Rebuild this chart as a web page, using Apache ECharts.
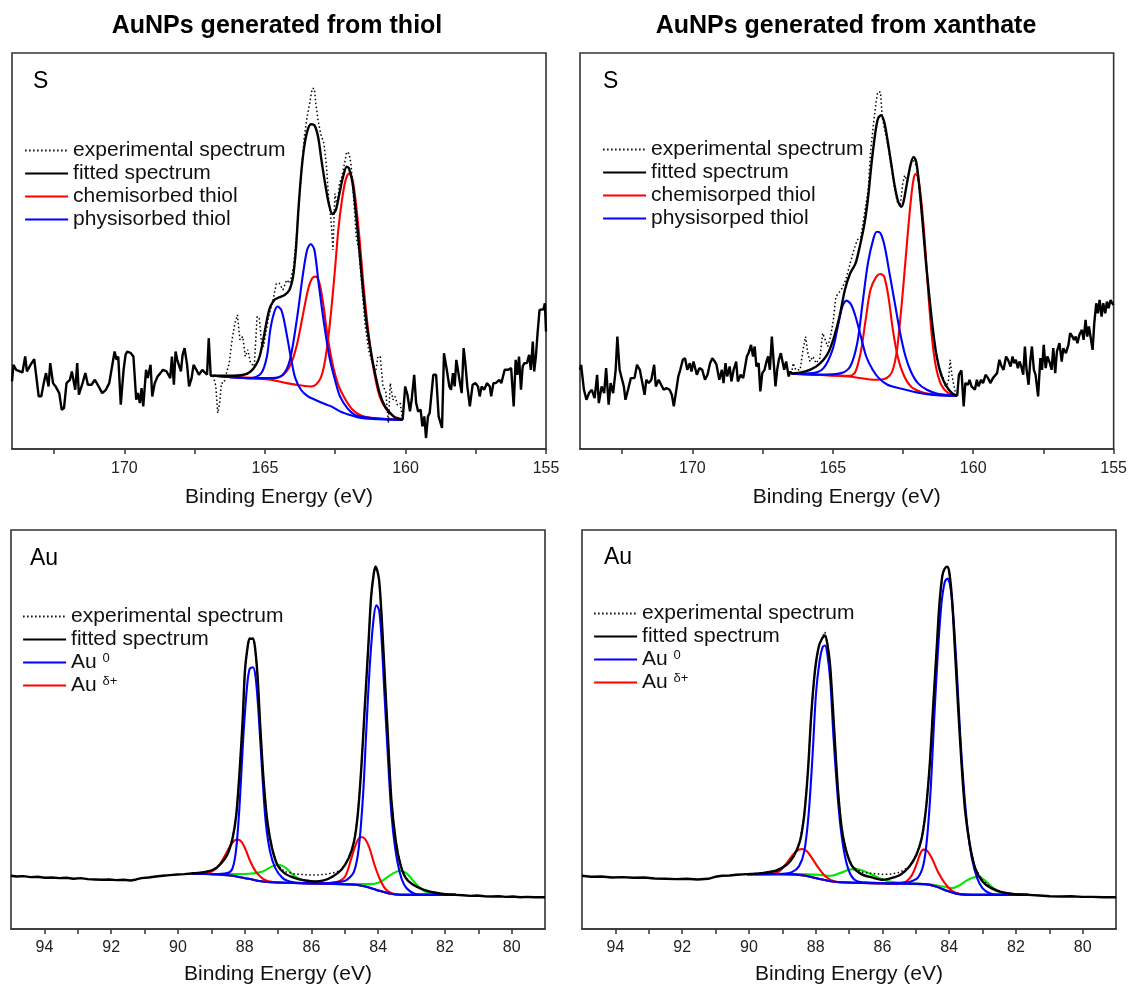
<!DOCTYPE html>
<html>
<head>
<meta charset="utf-8">
<script src="https://cdn.jsdelivr.net/npm/echarts@6/dist/echarts.min.js"></script>
<style>
html,body{margin:0;padding:0;background:#fff;}
#chart{width:1130px;height:986px;}
</style>
</head>
<body>
<div id="chart"></div>
<script>
// ---------------- DATA (binding energy in eV, intensity in arbitrary units) ----------------
const columnTitles = ['AuNPs generated from thiol', 'AuNPs generated from xanthate'];
const panelLabels = ['S', 'S', 'Au', 'Au'];

const sTickLabels = [155, 160, 165, 170];
const sTicks = [155, 157.5, 160, 162.5, 165, 167.5, 170, 172.5];
const auTickLabels = [80, 82, 84, 86, 88, 90, 92, 94];
const auTicks = [80, 81, 82, 83, 84, 85, 86, 87, 88, 89, 90, 91, 92, 93, 94];

// ---- S 2p, thiol ----
const sThiolRawLeft = [[174.00,203],[173.95,253],[173.85,238],[173.72,233],[173.63,230],[173.53,278],[173.47,233],[173.34,253],[173.21,270],[173.15,268],[173.05,158],[172.96,158],[172.87,198],[172.79,228],[172.70,188],[172.64,258],[172.54,198],[172.45,188],[172.38,193],[172.32,168],[172.23,118],[172.15,123],[172.06,198],[171.94,208],[171.87,233],[171.81,238],[171.75,178],[171.68,258],[171.62,163],[171.49,198],[171.39,228],[171.30,193],[171.17,193],[171.05,208],[170.92,188],[170.79,168],[170.66,178],[170.54,198],[170.41,263],[170.35,293],[170.28,268],[170.22,278],[170.13,133],[170.03,238],[169.96,283],[169.90,293],[169.77,288],[169.68,278],[169.58,148],[169.52,168],[169.45,138],[169.39,183],[169.33,128],[169.23,238],[169.17,213],[169.07,253],[169.01,158],[168.92,198],[168.82,218],[168.72,228],[168.63,238],[168.50,233],[168.37,213],[168.31,278],[168.24,193],[168.18,293],[168.12,268],[168.05,263],[167.99,233],[167.93,283],[167.86,303],[167.77,253],[167.70,188],[167.61,213],[167.54,253],[167.44,238],[167.35,223],[167.23,238],[167.16,238],[167.06,223],[167.00,333],[166.93,220],[166.84,220]];
const sThiolRawRight = [[160.10,88],[160.01,188],[159.93,163],[159.84,113],[159.78,148],[159.69,223],[159.62,138],[159.55,113],[159.46,118],[159.40,68],[159.33,98],[159.27,33],[159.20,98],[159.14,108],[159.01,223],[158.91,223],[158.82,98],[158.70,63],[158.63,288],[158.53,238],[158.44,188],[158.38,178],[158.31,228],[158.25,188],[158.19,268],[158.12,263],[158.06,198],[158.00,168],[157.93,303],[157.87,258],[157.80,188],[157.71,128],[157.61,193],[157.51,198],[157.42,188],[157.36,158],[157.29,188],[157.20,178],[157.10,198],[157.00,188],[156.95,158],[156.87,198],[156.79,198],[156.72,193],[156.66,208],[156.59,198],[156.53,218],[156.47,238],[156.34,238],[156.24,243],[156.15,128],[156.08,268],[156.02,223],[155.96,278],[155.89,178],[155.83,248],[155.77,258],[155.68,258],[155.60,283],[155.54,238],[155.47,323],[155.42,233],[155.36,278],[155.30,348],[155.23,418],[155.17,423],[155.09,420],[155.04,438],[155.00,353]];
const sThiolExp = [[166.84,220],[166.75,190],[166.68,108],[166.61,138],[166.55,198],[166.46,198],[166.37,228],[166.27,258],[166.17,328],[166.07,378],[165.98,403],[165.89,328],[165.79,338],[165.70,278],[165.61,298],[165.51,258],[165.38,248],[165.28,398],[165.20,393],[165.12,318],[165.05,308],[164.97,348],[164.87,398],[164.74,438],[164.59,498],[164.49,498],[164.36,478],[164.23,508],[164.11,498],[163.98,548],[163.88,638],[163.79,738],[163.70,838],[163.60,938],[163.50,998],[163.41,1038],[163.32,1083],[163.24,1083],[163.19,1038],[163.11,988],[163.02,948],[162.90,918],[162.81,848],[162.73,748],[162.64,678],[162.58,598],[162.51,768],[162.43,728],[162.35,798],[162.26,818],[162.17,858],[162.09,893],[162.01,888],[161.94,858],[161.84,748],[161.75,638],[161.66,598],[161.56,498],[161.43,368],[161.31,298],[161.18,258],[161.05,238],[160.98,278],[160.90,278],[160.80,188],[160.70,173],[160.61,78],[160.54,198],[160.45,148],[160.37,158],[160.29,133],[160.19,138],[160.10,88]];
const sThiolFit = [[166.84,220],[166.27,220],[165.76,223],[165.51,233],[165.32,253],[165.19,278],[165.06,328],[164.93,388],[164.81,428],[164.64,450],[164.49,456],[164.30,463],[164.13,478],[164.00,518],[163.90,598],[163.81,718],[163.72,818],[163.62,898],[163.50,953],[163.37,976],[163.24,973],[163.11,938],[162.99,868],[162.86,798],[162.73,738],[162.60,706],[162.48,718],[162.35,768],[162.22,818],[162.09,848],[162.01,843],[161.88,798],[161.75,698],[161.62,578],[161.50,468],[161.37,368],[161.24,298],[161.11,238],[160.92,168],[160.73,128],[160.54,108],[160.35,93],[160.10,88]];
const sThiolChem1 = [[166.84,220],[164.93,210],[164.49,216],[164.23,233],[164.04,263],[163.85,318],[163.66,398],[163.47,478],[163.32,513],[163.19,518],[163.06,498],[162.93,438],[162.77,338],[162.60,258],[162.39,193],[162.13,148],[161.88,118],[161.56,100],[161.05,92],[160.10,88]];
const sThiolChem2 = [[166.84,220],[164.93,210],[164.23,198],[163.72,191],[163.37,188],[163.19,193],[163.02,213],[162.90,248],[162.77,318],[162.64,418],[162.51,538],[162.39,658],[162.26,748],[162.13,808],[162.01,828],[161.88,808],[161.75,728],[161.62,618],[161.50,498],[161.37,388],[161.24,298],[161.11,228],[160.92,158],[160.67,118],[160.41,98],[160.10,90]];
const sThiolPhys1 = [[166.84,220],[165.51,213],[165.13,228],[164.93,278],[164.81,358],[164.68,408],[164.55,428],[164.42,418],[164.30,378],[164.17,318],[164.04,258],[163.92,213],[163.72,178],[163.47,158],[163.22,148],[162.96,138],[162.64,128],[162.33,113],[162.01,103],[161.69,95],[161.18,90],[160.41,88],[160.10,88]];
const sThiolPhys2 = [[166.84,220],[165.51,213],[164.74,213],[164.36,223],[164.11,268],[163.85,398],[163.66,518],[163.50,598],[163.37,616],[163.24,598],[163.09,498],[162.90,378],[162.71,278],[162.51,208],[162.33,158],[162.07,123],[161.81,103],[161.43,95],[160.92,91],[160.10,88]];

// ---- S 2p, xanthate ----
const sXanRawLeft = [[174.00,238],[173.96,253],[173.86,178],[173.77,148],[173.68,168],[173.58,178],[173.48,153],[173.39,223],[173.33,138],[173.23,188],[173.14,168],[173.07,243],[172.98,133],[172.91,198],[172.82,168],[172.73,238],[172.67,338],[172.59,238],[172.50,208],[172.44,188],[172.38,148],[172.29,178],[172.19,213],[172.12,218],[172.06,213],[171.97,253],[171.87,238],[171.80,233],[171.70,163],[171.64,208],[171.55,198],[171.46,208],[171.36,253],[171.30,188],[171.20,208],[171.11,193],[171.02,178],[170.92,183],[170.81,178],[170.73,163],[170.66,128],[170.57,178],[170.50,218],[170.43,238],[170.34,268],[170.26,273],[170.18,238],[170.09,258],[170.03,233],[169.96,263],[169.90,258],[169.84,223],[169.75,243],[169.65,238],[169.55,208],[169.46,223],[169.37,258],[169.29,273],[169.20,263],[169.14,253],[169.04,208],[168.95,238],[168.89,198],[168.82,258],[168.76,218],[168.67,248],[168.61,203],[168.53,238],[168.44,263],[168.38,203],[168.28,223],[168.19,213],[168.12,248],[168.06,278],[168.00,288],[167.91,313],[167.84,278],[167.78,308],[167.72,248],[167.64,258],[167.58,173],[167.51,228],[167.43,238],[167.36,263],[167.30,278],[167.24,238],[167.17,338],[167.11,268],[167.04,188],[166.98,238],[166.92,268],[166.85,288],[166.79,293],[166.73,238],[166.66,263],[166.57,218],[166.51,233],[166.47,226]];
const sXanRawRight = [[160.57,160],[160.51,223],[160.42,236],[160.34,128],[160.28,198],[160.19,193],[160.13,208],[160.06,188],[160.00,193],[159.94,178],[159.87,208],[159.81,188],[159.72,208],[159.65,198],[159.56,223],[159.47,213],[159.39,198],[159.30,213],[159.24,208],[159.15,228],[159.07,268],[158.99,248],[158.92,238],[158.83,278],[158.76,268],[158.67,248],[158.60,278],[158.54,258],[158.48,268],[158.41,243],[158.35,263],[158.29,248],[158.22,223],[158.16,308],[158.10,238],[158.03,193],[157.97,263],[157.91,308],[157.84,238],[157.78,223],[157.69,158],[157.61,273],[157.55,238],[157.49,313],[157.42,243],[157.36,278],[157.27,258],[157.21,238],[157.15,303],[157.08,228],[157.02,293],[156.93,318],[156.85,263],[156.79,303],[156.70,288],[156.61,313],[156.55,348],[156.47,338],[156.41,328],[156.35,338],[156.29,318],[156.22,343],[156.13,358],[156.07,328],[156.00,388],[155.94,338],[155.88,368],[155.81,368],[155.75,298],[155.69,378],[155.62,438],[155.56,408],[155.50,448],[155.43,398],[155.37,438],[155.30,408],[155.24,443],[155.18,423],[155.11,448],[155.05,438],[155.00,433]];
const sXanExp = [[166.47,226],[166.41,258],[166.32,238],[166.16,238],[166.07,293],[165.97,338],[165.90,293],[165.81,263],[165.71,278],[165.59,258],[165.46,273],[165.36,348],[165.27,328],[165.18,308],[165.08,338],[164.98,388],[164.89,458],[164.80,468],[164.70,478],[164.54,508],[164.38,558],[164.25,598],[164.13,628],[164.00,638],[163.87,708],[163.74,778],[163.66,888],[163.55,978],[163.45,1048],[163.40,1073],[163.30,1073],[163.24,998],[163.15,958],[163.05,918],[162.92,848],[162.79,778],[162.69,738],[162.59,738],[162.51,798],[162.44,823],[162.35,803],[162.22,858],[162.13,868],[162.03,853],[161.93,788],[161.80,678],[161.68,558],[161.59,478],[161.46,368],[161.33,298],[161.21,238],[161.08,218],[160.99,188],[160.89,198],[160.82,268],[160.76,223],[160.66,178],[160.57,158]];
const sXanFit = [[166.47,226],[165.97,233],[165.59,248],[165.33,268],[165.14,293],[164.95,338],[164.76,398],[164.57,478],[164.38,528],[164.19,558],[164.04,608],[163.87,678],[163.74,758],[163.62,858],[163.49,948],[163.39,993],[163.28,1003],[163.17,983],[163.05,928],[162.92,858],[162.79,788],[162.67,743],[162.56,728],[162.48,743],[162.35,803],[162.22,858],[162.12,878],[162.03,863],[161.93,798],[161.80,678],[161.68,558],[161.55,448],[161.42,348],[161.30,278],[161.14,223],[160.95,188],[160.76,168],[160.57,160]];
const sXanChem1 = [[166.47,226],[165.46,223],[164.70,220],[164.38,220],[164.19,233],[164.00,293],[163.83,388],[163.66,478],[163.45,518],[163.30,526],[163.17,518],[163.02,458],[162.86,358],[162.69,278],[162.48,223],[162.22,188],[161.90,173],[161.52,165],[161.02,161],[160.57,160]];
const sXanChem2 = [[166.47,226],[165.46,223],[164.44,218],[163.43,208],[163.17,210],[162.98,220],[162.86,238],[162.73,288],[162.61,378],[162.48,498],[162.35,628],[162.22,748],[162.13,808],[162.06,826],[161.97,818],[161.84,738],[161.71,608],[161.59,458],[161.46,328],[161.33,248],[161.14,193],[160.89,168],[160.57,160]];
const sXanPhys1 = [[166.47,226],[165.71,228],[165.33,243],[165.01,298],[164.82,368],[164.66,428],[164.51,446],[164.34,433],[164.19,398],[164.00,338],[163.81,278],[163.58,238],[163.36,213],[163.05,193],[162.67,183],[162.16,173],[161.65,165],[161.14,161],[160.57,160]];
const sXanPhys2 = [[166.47,226],[165.46,223],[164.70,228],[164.38,248],[164.13,318],[163.94,438],[163.75,558],[163.55,633],[163.43,653],[163.30,648],[163.15,608],[162.98,528],[162.79,438],[162.60,348],[162.41,278],[162.22,233],[161.97,198],[161.65,178],[161.27,166],[160.89,162],[160.57,160]];

// ---- Au 4f, thiol ----
const auThiolRawLeft = [[95.00,159],[94.84,157],[94.63,158],[94.41,155],[94.20,156],[93.99,153],[93.77,154],[93.55,152],[93.34,153],[93.13,150],[92.91,152],[92.70,149],[92.48,148],[92.27,147],[92.06,148],[91.84,146],[91.63,147],[91.41,145],[91.25,148],[91.09,152],[90.88,154],[90.66,157],[90.45,159],[90.24,161],[90.02,163],[89.81,164],[89.59,166]];
const auThiolRawRight = [[81.67,102],[81.46,101],[81.24,99],[81.03,100],[80.81,98],[80.60,97],[80.38,98],[80.17,96],[79.96,97],[79.74,95],[79.53,96],[79.31,95],[79.00,95]];
const auThiolFit = [[89.59,166],[89.27,169],[88.95,177],[88.74,192],[88.52,222],[88.36,272],[88.25,342],[88.15,472],[88.06,622],[87.99,772],[87.91,842],[87.85,867],[87.75,867],[87.69,842],[87.61,752],[87.53,602],[87.43,442],[87.32,322],[87.18,242],[87.02,192],[86.81,167],[86.49,152],[86.17,145],[85.90,142],[85.63,145],[85.36,157],[85.10,177],[84.88,212],[84.72,262],[84.61,342],[84.51,472],[84.40,662],[84.29,852],[84.21,992],[84.13,1062],[84.08,1082],[84.03,1072],[83.97,1042],[83.90,942],[83.81,772],[83.70,562],[83.60,382],[83.47,262],[83.33,192],[83.17,152],[82.95,132],[82.63,117],[82.31,109],[81.99,104],[81.67,102]];
const auThiolExp = [[89.59,166],[89.27,169],[88.95,177],[88.74,192],[88.52,222],[88.36,272],[88.25,342],[88.15,472],[88.06,622],[87.99,772],[87.91,842],[87.85,869],[87.75,869],[87.69,842],[87.61,752],[87.53,602],[87.43,442],[87.32,322],[87.18,242],[87.02,192],[86.81,172],[86.49,164],[86.17,162],[85.85,161],[85.53,164],[85.26,170],[85.10,177],[84.88,212],[84.72,262],[84.61,342],[84.51,472],[84.40,662],[84.29,852],[84.21,992],[84.13,1062],[84.08,1084],[84.03,1072],[83.97,1042],[83.90,942],[83.81,772],[83.70,562],[83.60,382],[83.47,262],[83.33,192],[83.17,152],[82.95,132],[82.63,117],[82.31,109],[81.99,104],[81.67,102]];
const auThiolAu0a = [[89.59,166],[88.95,164],[88.52,167],[88.36,182],[88.25,242],[88.15,372],[88.04,572],[87.93,722],[87.85,777],[87.75,782],[87.67,752],[87.58,642],[87.47,462],[87.37,322],[87.24,232],[87.08,182],[86.86,152],[86.65,142],[86.27,137],[85.74,136],[84.67,132],[84.35,126],[84.03,116],[83.70,107],[83.28,102],[81.67,102]];
const auThiolAu0b = [[89.59,166],[88.95,164],[88.42,160],[87.88,150],[87.45,142],[86.81,138],[85.74,136],[85.20,140],[84.94,147],[84.72,172],[84.58,242],[84.45,402],[84.35,602],[84.24,802],[84.13,932],[84.05,967],[83.97,952],[83.90,872],[83.81,702],[83.70,502],[83.60,342],[83.49,242],[83.36,172],[83.22,132],[83.06,114],[82.85,104],[81.67,102]];
const auThiolAuDa = [[89.59,166],[89.16,167],[88.84,182],[88.63,212],[88.44,247],[88.31,264],[88.20,267],[88.09,260],[87.97,237],[87.83,202],[87.67,172],[87.45,150],[87.24,142],[86.81,138],[85.74,136],[84.67,132],[84.35,126],[84.03,116],[83.70,107],[83.28,102],[81.67,102]];
const auThiolAuDb = [[89.59,166],[88.95,164],[88.42,160],[87.88,150],[87.45,142],[86.81,138],[85.74,136],[85.26,140],[84.99,157],[84.80,212],[84.67,252],[84.53,275],[84.40,270],[84.26,242],[84.11,192],[83.94,147],[83.76,117],[83.54,105],[83.17,102],[81.67,102]];
const auThiolGreenA = [[89.59,166],[88.74,164],[87.88,165],[87.45,172],[87.18,187],[86.97,192],[86.76,182],[86.49,157],[86.17,142],[85.74,136],[84.67,132],[84.35,126],[84.03,116],[83.70,107],[83.28,102],[81.67,102]];
const auThiolGreenB = [[89.59,166],[88.95,164],[88.42,160],[87.88,150],[87.45,142],[86.81,138],[85.74,136],[84.67,134],[84.24,134],[83.97,139],[83.76,152],[83.54,167],[83.33,174],[83.12,164],[82.95,144],[82.74,122],[82.47,107],[81.67,102]];

// ---- Au 4f, xanthate ----
const auXanRawLeft = [[95.00,159],[94.74,156],[94.42,157],[94.10,154],[93.78,155],[93.46,153],[93.14,154],[92.82,151],[92.50,150],[92.18,149],[91.86,150],[91.54,148],[91.22,150],[91.01,156],[90.80,159],[90.58,160],[90.37,162],[90.05,164]];
const auXanRawRight = [[81.62,102],[81.30,100],[80.98,98],[80.66,97],[80.34,98],[80.02,96],[79.70,96],[79.38,95],[79.00,95]];
const auXanFit = [[90.05,164],[89.62,167],[89.19,174],[88.87,192],[88.66,217],[88.47,262],[88.34,342],[88.23,472],[88.13,642],[88.02,772],[87.91,842],[87.81,867],[87.72,877],[87.65,852],[87.57,792],[87.49,672],[87.40,522],[87.32,402],[87.22,302],[87.08,232],[86.90,187],[86.63,164],[86.31,154],[85.99,147],[85.73,152],[85.46,162],[85.19,187],[84.98,222],[84.82,272],[84.69,362],[84.58,492],[84.48,662],[84.37,842],[84.29,972],[84.20,1057],[84.13,1077],[84.05,1082],[83.99,1062],[83.91,982],[83.83,842],[83.73,662],[83.62,482],[83.52,352],[83.38,252],[83.22,182],[83.00,142],[82.74,122],[82.42,110],[82.04,104],[81.62,102]];
const auXanExp = [[90.05,164],[89.62,167],[89.19,174],[88.87,192],[88.66,217],[88.47,262],[88.34,342],[88.23,472],[88.13,642],[88.02,772],[87.91,842],[87.81,870],[87.72,887],[87.65,852],[87.57,792],[87.49,672],[87.40,522],[87.32,402],[87.22,302],[87.08,232],[86.90,187],[86.63,170],[86.31,166],[85.99,163],[85.73,164],[85.46,170],[85.19,187],[84.98,222],[84.82,272],[84.69,362],[84.58,492],[84.48,662],[84.37,842],[84.29,972],[84.20,1057],[84.13,1077],[84.05,1084],[83.99,1062],[83.91,982],[83.83,842],[83.73,662],[83.62,482],[83.52,352],[83.38,252],[83.22,182],[83.00,146],[82.74,124],[82.42,110],[82.04,104],[81.62,102]];
const auXanAu0a = [[90.05,164],[88.98,165],[88.71,170],[88.50,187],[88.34,232],[88.21,342],[88.09,522],[87.99,702],[87.88,802],[87.79,842],[87.72,847],[87.65,822],[87.56,742],[87.47,582],[87.36,422],[87.25,302],[87.11,212],[86.95,162],[86.74,142],[86.42,139],[85.78,136],[84.71,134],[84.39,127],[84.07,114],[83.75,105],[83.32,102],[81.62,102]];
const auXanAu0b = [[90.05,164],[88.98,164],[88.34,160],[87.91,150],[87.49,142],[86.85,138],[85.78,136],[85.35,139],[85.14,142],[84.93,154],[84.77,192],[84.66,272],[84.55,422],[84.45,622],[84.34,822],[84.23,972],[84.13,1037],[84.05,1047],[83.97,1027],[83.88,942],[83.77,772],[83.67,582],[83.56,422],[83.45,302],[83.32,212],[83.16,152],[83.00,122],[82.79,107],[82.47,102],[81.62,102]];
const auXanAuDa = [[90.05,164],[89.41,164],[89.09,172],[88.87,197],[88.66,224],[88.50,237],[88.39,239],[88.26,232],[88.11,212],[87.91,182],[87.70,157],[87.43,142],[87.06,139],[86.31,137],[85.25,135],[84.71,134],[84.39,127],[84.07,114],[83.75,105],[83.32,102],[81.62,102]];
const auXanAuDb = [[90.05,164],[88.98,164],[88.34,160],[87.91,150],[87.49,142],[86.85,138],[85.78,136],[85.35,139],[85.14,157],[84.98,192],[84.87,224],[84.77,237],[84.66,234],[84.52,212],[84.34,172],[84.13,137],[83.91,114],[83.64,104],[83.22,102],[81.62,102]];
const auXanGreenA = [[90.05,164],[88.45,164],[87.91,162],[87.54,159],[87.27,167],[87.01,177],[86.79,179],[86.58,174],[86.31,162],[86.05,150],[85.78,142],[85.25,136],[84.71,134],[84.39,127],[84.07,114],[83.75,105],[83.32,102],[81.62,102]];
const auXanGreenB = [[90.05,164],[88.98,164],[88.34,160],[87.91,150],[87.49,142],[86.85,138],[85.78,136],[84.71,134],[84.18,127],[83.91,122],[83.70,130],[83.49,144],[83.27,154],[83.11,156],[82.95,147],[82.74,127],[82.47,110],[82.04,104],[81.62,102]];

// ---------------- CHART ----------------
const FONT = "'Liberation Sans', Arial, Helvetica, sans-serif";
const RED = '#ff0000', BLUE = '#0000ff', GREEN = '#00e600', BLACK = '#000000';

const grids = [
  {left: 12, top: 53, width: 534, height: 396},
  {left: 580, top: 53, width: 534, height: 396},
  {left: 11, top: 530, width: 534, height: 399},
  {left: 582, top: 530, width: 534, height: 399}
].map(g => Object.assign({show: true, borderColor: '#333', borderWidth: 1.6, containLabel: false}, g));

function xAxisFor(i, isS) {
  return {
    gridIndex: i, type: 'value', inverse: true,
    min: isS ? 155 : 79, max: isS ? 174 : 95,
    name: 'Binding Energy (eV)', nameLocation: 'middle', nameGap: isS ? 38 : 35,
    nameTextStyle: {fontSize: 21, color: '#111', fontFamily: FONT},
    axisLine: {show: true, onZero: false, lineStyle: {color: '#333', width: 1.6}},
    axisTick: {show: true, inside: false, length: 5, customValues: isS ? sTicks : auTicks, lineStyle: {color: '#333', width: 1.5}},
    axisLabel: {show: true, customValues: isS ? sTickLabels : auTickLabels, fontSize: 16, color: '#222', fontFamily: FONT, margin: isS ? 12 : 11},
    splitLine: {show: false}
  };
}
function yAxisFor(i, isS) {
  return {gridIndex: i, type: 'value', min: 0, max: isS ? 1190 : 1192, show: false, splitLine: {show: false}};
}

function ln(name, data, gi, color, width, extra) {
  return Object.assign({
    type: 'line', name: name, data: data, xAxisIndex: gi, yAxisIndex: gi,
    symbol: 'none', smooth: 0.3, silent: true, clip: true,
    lineStyle: {color: color, width: width}, itemStyle: {color: color},
    emphasis: {disabled: true}
  }, extra || {});
}
const dotted = {smooth: false, lineStyle: {color: BLACK, width: 1.5, type: [1.5, 2.5]}};
const raw = {smooth: false};
const CW = 2.1, FW = 2.4;

const series = [
  // thiol S
  ln('chemisorbed thiol', sThiolChem1, 0, RED, CW),
  ln('chemisorbed thiol', sThiolChem2, 0, RED, CW),
  ln('physisorbed thiol', sThiolPhys1, 0, BLUE, CW),
  ln('physisorbed thiol', sThiolPhys2, 0, BLUE, CW),
  ln('experimental spectrum', sThiolExp, 0, BLACK, 1.5, dotted),
  ln('fitted spectrum', sThiolFit, 0, BLACK, FW),
  ln('raw data', sThiolRawLeft, 0, BLACK, FW, raw),
  ln('raw data', sThiolRawRight, 0, BLACK, FW, raw),
  // xanthate S
  ln('chemisorped thiol', sXanChem1, 1, RED, CW),
  ln('chemisorped thiol', sXanChem2, 1, RED, CW),
  ln('physisorped thiol', sXanPhys1, 1, BLUE, CW),
  ln('physisorped thiol', sXanPhys2, 1, BLUE, CW),
  ln('experimental spectrum', sXanExp, 1, BLACK, 1.5, dotted),
  ln('fitted spectrum', sXanFit, 1, BLACK, FW),
  ln('raw data', sXanRawLeft, 1, BLACK, FW, raw),
  ln('raw data', sXanRawRight, 1, BLACK, FW, raw),
  // thiol Au
  ln('Au-S', auThiolGreenA, 2, GREEN, CW),
  ln('Au-S', auThiolGreenB, 2, GREEN, CW),
  ln('Au d+', auThiolAuDa, 2, RED, CW),
  ln('Au d+', auThiolAuDb, 2, RED, CW),
  ln('Au 0', auThiolAu0a, 2, BLUE, CW),
  ln('Au 0', auThiolAu0b, 2, BLUE, CW),
  ln('experimental spectrum', auThiolExp, 2, BLACK, 1.5, dotted),
  ln('fitted spectrum', auThiolFit, 2, BLACK, FW),
  ln('raw data', auThiolRawLeft, 2, BLACK, FW, raw),
  ln('raw data', auThiolRawRight, 2, BLACK, FW, raw),
  // xanthate Au
  ln('Au-S', auXanGreenA, 3, GREEN, CW),
  ln('Au-S', auXanGreenB, 3, GREEN, CW),
  ln('Au d+', auXanAuDa, 3, RED, CW),
  ln('Au d+', auXanAuDb, 3, RED, CW),
  ln('Au 0', auXanAu0a, 3, BLUE, CW),
  ln('Au 0', auXanAu0b, 3, BLUE, CW),
  ln('experimental spectrum', auXanExp, 3, BLACK, 1.5, dotted),
  ln('fitted spectrum', auXanFit, 3, BLACK, FW),
  ln('raw data', auXanRawLeft, 3, BLACK, FW, raw),
  ln('raw data', auXanRawRight, 3, BLACK, FW, raw)
];

function legendAt(left, top, names) {
  return {
    orient: 'vertical', left: left, top: top, padding: 0,
    itemWidth: 43, itemHeight: 14, itemGap: 2, selectedMode: false,
    itemStyle: {opacity: 0, borderWidth: 0},
    lineStyle: {width: 2.2},
    data: names,
    formatter: function (n) {
      if (n === 'Au 0') return '{b|Au }{s|0}';
      if (n === 'Au d+') return '{b|Au }{s|\u03b4+}';
      return n;
    },
    textStyle: {
      fontSize: 21, lineHeight: 21, color: '#111', fontFamily: FONT,
      rich: {
        b: {fontSize: 21, lineHeight: 21, color: '#111', fontFamily: FONT},
        s: {fontSize: 13, lineHeight: 12, verticalAlign: 'top', color: '#111', fontFamily: FONT}
      }
    }
  };
}

const titles = [
  {text: columnTitles[0], left: 277, top: 14, textAlign: 'center', padding: 0, textStyle: {fontSize: 25, fontWeight: 'bold', color: '#000', fontFamily: FONT}},
  {text: columnTitles[1], left: 846, top: 14, textAlign: 'center', padding: 0, textStyle: {fontSize: 25, fontWeight: 'bold', color: '#000', fontFamily: FONT}},
  {text: panelLabels[0], left: 33, top: 70, padding: 0, textStyle: {fontSize: 23, fontWeight: 'normal', color: '#000', fontFamily: FONT}},
  {text: panelLabels[1], left: 603, top: 70, padding: 0, textStyle: {fontSize: 23, fontWeight: 'normal', color: '#000', fontFamily: FONT}},
  {text: panelLabels[2], left: 30, top: 547, padding: 0, textStyle: {fontSize: 23, fontWeight: 'normal', color: '#000', fontFamily: FONT}},
  {text: panelLabels[3], left: 604, top: 546, padding: 0, textStyle: {fontSize: 23, fontWeight: 'normal', color: '#000', fontFamily: FONT}}
];

const option = {
  animation: false,
  backgroundColor: '#ffffff',
  title: titles,
  grid: grids,
  xAxis: [xAxisFor(0, true), xAxisFor(1, true), xAxisFor(2, false), xAxisFor(3, false)],
  yAxis: [yAxisFor(0, true), yAxisFor(1, true), yAxisFor(2, false), yAxisFor(3, false)],
  legend: [
    legendAt(24, 140, ['experimental spectrum', 'fitted spectrum', 'chemisorbed thiol', 'physisorbed thiol']),
    legendAt(602, 139, ['experimental spectrum', 'fitted spectrum', 'chemisorped thiol', 'physisorped thiol']),
    legendAt(22, 606, ['experimental spectrum', 'fitted spectrum', 'Au 0', 'Au d+']),
    legendAt(593, 603, ['experimental spectrum', 'fitted spectrum', 'Au 0', 'Au d+'])
  ],
  series: series
};

const chart = echarts.init(document.getElementById('chart'), null, {renderer: 'canvas'});
chart.setOption(option);
</script>
</body>
</html>
